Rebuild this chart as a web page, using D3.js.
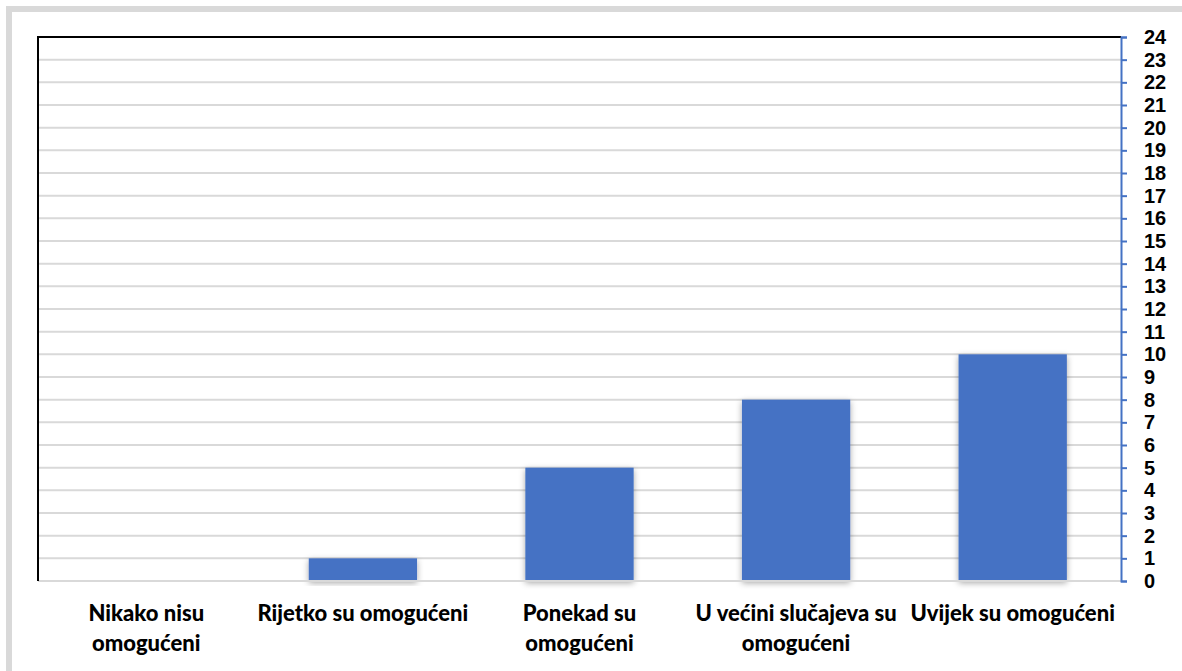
<!DOCTYPE html>
<html>
<head>
<meta charset="utf-8">
<script src="https://cdn.jsdelivr.net/npm/d3@7"></script>
<style>
  body { margin: 0; background: #fff; }
  svg { display: block; }
</style>
</head>
<body>
<div id="chart"></div>
<script>
var categories = [["Nikako nisu", "omogućeni"], ["Rijetko su omogućeni"], ["Ponekad su", "omogućeni"], ["U većini slučajeva su", "omogućeni"], ["Uvijek su omogućeni"]]
var values = [0, 1, 5, 8, 10]
var yTicks = d3.range(0, 25)

var W = 1182, H = 671
var plot = {left: 38, top: 37, right: 1121, bottom: 581}

var svg = d3.select("#chart").append("svg")
  .attr("width", W)
  .attr("height", H)

// soft shadow under the bars
var defs = svg.append("defs")
defs.append("filter").attr("id", "shadow")
  .attr("x", "-20%").attr("y", "-20%").attr("width", "140%").attr("height", "140%")
  .append("feDropShadow")
    .attr("dx", 0).attr("dy", 2)
    .attr("stdDeviation", 3)
    .attr("flood-color", "#000")
    .attr("flood-opacity", 0.35)

// outer grey frame, only top & left edges visible
svg.append("rect")
  .attr("x", 9).attr("y", 9)
  .attr("width", W + 20).attr("height", H + 20)
  .attr("fill", "none")
  .attr("stroke", "#d9d9d9")
  .attr("stroke-width", 6)

var x = d3.scaleBand()
  .domain(d3.range(categories.length))
  .range([plot.left, plot.right])
  .paddingInner(0.5)
  .paddingOuter(0.25)

var y = d3.scaleLinear()
  .domain([0, 24])
  .range([plot.bottom, plot.top])

// gridlines
svg.append("g")
  .selectAll("line").data(yTicks.slice(1))
  .enter().append("line")
    .attr("x1", plot.left).attr("x2", plot.right)
    .attr("y1", d => y(d)).attr("y2", d => y(d))
    .attr("stroke", "#d9d9d9")
    .attr("stroke-width", 2)

// bars
svg.append("g")
  .selectAll("rect").data(values)
  .enter().append("rect")
    .attr("x", (d, i) => x(i))
    .attr("width", x.bandwidth())
    .attr("y", d => y(d))
    .attr("height", d => y(0) - y(d))
    .attr("fill", "#4472c4")
    .attr("filter", d => d > 0 ? "url(#shadow)" : null)

// baseline
svg.append("line")
  .attr("x1", plot.left).attr("x2", plot.right)
  .attr("y1", y(0)).attr("y2", y(0))
  .attr("stroke", "#d9d9d9")
  .attr("stroke-width", 2)

// black frame top + left
svg.append("path")
  .attr("d", "M" + plot.left + "," + plot.bottom + "V" + plot.top + "H" + plot.right)
  .attr("fill", "none")
  .attr("stroke", "#000")
  .attr("stroke-width", 2)

// right value axis
var yAxis = svg.append("g")
  .attr("transform", "translate(" + plot.right + ",0)")
  .call(d3.axisRight(y).tickValues(yTicks).tickSize(6).tickPadding(17).tickFormat(d3.format("d")))

yAxis.select(".domain").attr("stroke", "#4472c4").attr("stroke-width", 2)
yAxis.selectAll(".tick line").attr("stroke", "#4472c4").attr("stroke-width", 2)
yAxis.selectAll(".tick text")
  .attr("fill", "#000")
  .style("font-family", "'Liberation Sans', Arial, sans-serif")
  .style("font-weight", "bold")
  .style("font-size", "20px")

// category labels
var labels = svg.append("g")
  .selectAll("text").data(categories)
  .enter().append("text")
    .attr("x", (d, i) => x(i) + x.bandwidth() / 2)
    .attr("y", 621)
    .attr("text-anchor", "middle")
    .style("font-family", "Lato, 'Open Sans', sans-serif")
    .style("font-weight", "900")
    .style("font-size", "22px")
    .attr("fill", "#000")

labels.selectAll("tspan").data(d => d)
  .enter().append("tspan")
    .attr("x", function() { return this.parentNode.getAttribute("x") })
    .attr("dy", (d, i) => i === 0 ? 0 : 30)
    .text(d => d)
</script>
</body>
</html>
